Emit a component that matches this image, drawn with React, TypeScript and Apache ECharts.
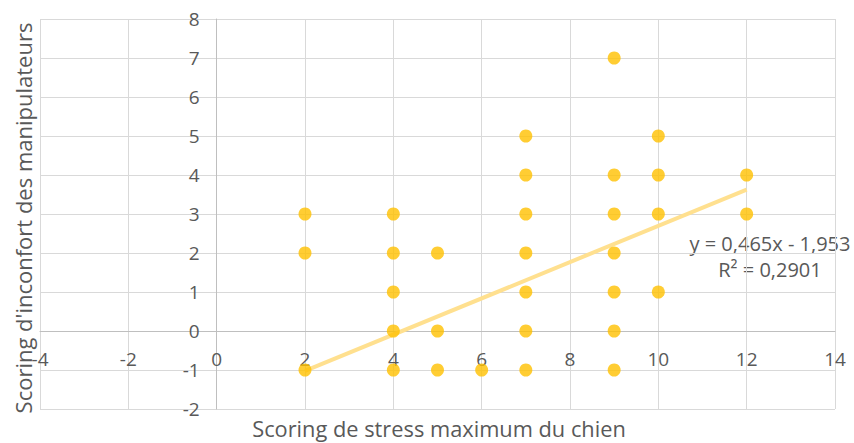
import React, { useEffect, useRef } from "react";
import * as echarts from "echarts";

const xTitle = "Scoring de stress maximum du chien";
const yTitle = "Scoring d'inconfort des manipulateurs";

const points: [number, number][] = [
  [2, 3], [2, 2], [2, -1],
  [4, 3], [4, 2], [4, 1], [4, 0], [4, -1],
  [5, 2], [5, 0], [5, -1],
  [6, -1],
  [7, 5], [7, 4], [7, 3], [7, 2], [7, 1], [7, 0], [7, -1],
  [9, 7], [9, 4], [9, 3], [9, 2], [9, 1], [9, 0], [9, -1],
  [10, 5], [10, 4], [10, 3], [10, 1],
  [12, 4], [12, 3],
];

const slope = 0.465;
const intercept = -1.953;
const trendX = [2, 12];
const eqLabel = "y = 0,465x - 1,953";
const r2Label = "R² = 0,2901";

const X_MIN = -4, X_MAX = 14, Y_MIN = -2, Y_MAX = 8;
const FONT = "'Open Sans', Lato, sans-serif";
const TXT = "#595959";

export default function App() {
  const ref = useRef<HTMLDivElement>(null);
  useEffect(() => {
    if (!ref.current) return;
    const chart = echarts.init(ref.current, undefined, { renderer: "svg" });
    const trend = trendX.map((x) => [x, slope * x + intercept]);
    const gLeft = 40, gRight = 19, gTop = 19, gBottom = 34;
    const plotW = 854 - gLeft - gRight;
    const plotH = 443 - gTop - gBottom;
    const xOff = -((0 - Y_MIN) / (Y_MAX - Y_MIN)) * plotH;
    const yOff = -((0 - X_MIN) / (X_MAX - X_MIN)) * plotW;
    chart.setOption({
      animation: false,
      backgroundColor: "#ffffff",
      grid: { left: gLeft, right: gRight, top: gTop, bottom: gBottom },
      xAxis: {
        type: "value",
        min: X_MIN,
        max: X_MAX,
        interval: 2,
        position: "bottom",
        offset: xOff,
        axisLine: { onZero: false, lineStyle: { color: "#bfbfbf", width: 1 } },
        axisTick: { show: false },
        axisLabel: { color: TXT, fontSize: 19, fontFamily: FONT, margin: 18 },
        splitLine: { show: true, lineStyle: { color: "#d9d9d9", width: 1 } },
      },
      yAxis: {
        type: "value",
        min: Y_MIN,
        max: Y_MAX,
        interval: 1,
        position: "left",
        offset: yOff,
        axisLine: { show: true, onZero: false, lineStyle: { color: "#bfbfbf", width: 1 } },
        axisTick: { show: false },
        axisLabel: { color: TXT, fontSize: 19, fontFamily: FONT, margin: 17 },
        splitLine: { show: true, lineStyle: { color: "#d9d9d9", width: 1 } },
      },
      series: [
        {
          type: "line",
          data: trend,
          showSymbol: false,
          symbol: "none",
          lineStyle: { color: "#ffe08f", width: 4 },
          z: 2,
        },
        {
          type: "scatter",
          data: points,
          symbol: "circle",
          symbolSize: 13,
          itemStyle: { color: "#ffc000" },
          z: 3,
        },
      ],
      graphic: [
        {
          type: "text",
          x: 439,
          y: 428,
          style: { text: xTitle, fill: TXT, fontSize: 21.8, fontFamily: FONT, align: "center", verticalAlign: "middle" },
        },
        {
          type: "text",
          x: 23,
          y: 218,
          rotation: Math.PI / 2,
          style: {
            text: yTitle,
            fill: TXT,
            fontSize: 22,
            fontFamily: FONT,
            align: "center",
            verticalAlign: "middle",
          },
        },
        {
          type: "text",
          x: 770,
          y: 243,
          style: { text: eqLabel, fill: TXT, fontSize: 20, fontFamily: FONT, align: "center", verticalAlign: "middle" },
        },
        {
          type: "text",
          x: 770,
          y: 269,
          style: { text: r2Label, fill: TXT, fontSize: 20, fontFamily: FONT, align: "center", verticalAlign: "middle" },
        },
      ],
    });
    return () => chart.dispose();
  }, []);
  return <div ref={ref} style={{ width: 854, height: 443, position: "absolute", left: 0, top: 0 }} />;
}
